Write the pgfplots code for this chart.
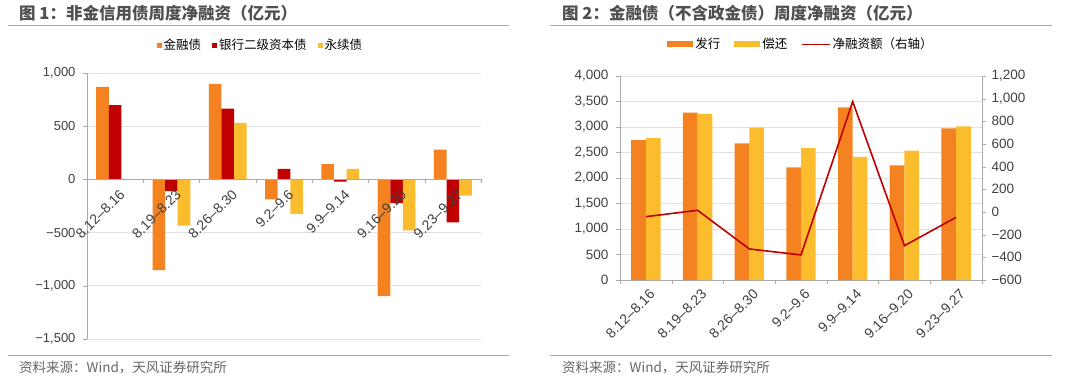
\documentclass[border=0pt]{standalone}
\usepackage{pgfplots}
\pgfplotsset{compat=1.18}
\usepackage{fontspec}
\setmainfont{Liberation Sans}
\newfontfamily\cjk{Noto Sans CJK SC}
\definecolor{cOrange}{RGB}{245,130,32}
\definecolor{cRed}{RGB}{192,0,0}
\definecolor{cYellow}{RGB}{251,188,45}
\definecolor{cLine}{RGB}{245,150,70}
\definecolor{cTitle}{RGB}{80,80,80}
\definecolor{cTick}{RGB}{64,64,64}
\definecolor{cGrid}{RGB}{225,225,225}
\definecolor{cAxis}{RGB}{170,170,170}
\pgfplotsset{
  linelegend/.style={legend image code/.code={\draw[##1] (0pt,0pt) -- (28pt,0pt);}},
}
\begin{document}
\begin{tikzpicture}
\path[use as bounding box] (0,0) rectangle (1080pt,-383pt);
% titles and frame lines
\node[anchor=west, font=\cjk\bfseries\fontsize{16.5}{17}\selectfont, text=cTitle, inner sep=0pt] at (19pt,-13pt) {图 1：非金信用债周度净融资（亿元）};
\node[anchor=west, font=\cjk\bfseries\fontsize{16.5}{17}\selectfont, text=cTitle, inner sep=0pt] at (562pt,-13pt) {图 2：金融债（不含政金债）周度净融资（亿元）};
\draw[cLine, line width=1.1pt] (8pt,-25.5pt) -- (509pt,-25.5pt);
\draw[cLine, line width=1.1pt] (550pt,-25.5pt) -- (1052pt,-25.5pt);
\draw[cLine, line width=1.1pt] (8pt,-355.5pt) -- (509pt,-355.5pt);
\draw[cLine, line width=1.1pt] (550pt,-355.5pt) -- (1052pt,-355.5pt);
\node[anchor=west, font=\cjk\fontsize{13.5}{14}\selectfont, text=cTick!80, inner sep=0pt] at (19pt,-368pt) {资料来源：Wind，天风证券研究所};
\node[anchor=west, font=\cjk\fontsize{13.5}{14}\selectfont, text=cTick!80, inner sep=0pt] at (562pt,-368pt) {资料来源：Wind，天风证券研究所};

% ---------- Left chart: bars ----------
\begin{axis}[
  at={(87pt,-339pt)}, anchor=south west, scale only axis,
  width=394pt, height=266pt,
  xmin=-0.5, xmax=6.5, ymin=-1500, ymax=1000,
  axis y line=left, axis x line=none,
  axis line style={-, draw=cAxis},
  ybar, bar width=12.6pt,
  xtick=\empty,
  ytick={-1500,-1000,-500,0,500,1000},
  yticklabels={{−1,500},{−1,000},{−500},{0},{500},{1,000}},
  yticklabel style={font=\fontsize{13}{13}\selectfont, text=cTick, xshift=-4pt},
  tick align=outside, major tick length=4pt,
  tick style={draw=cAxis},
  ymajorgrids, grid style={cGrid, line width=0.8pt},
  legend style={at={(0.44,1.105)}, anchor=center, draw=none, fill=none,
    legend columns=-1, font=\cjk\fontsize{12.5}{13}\selectfont, text=black,
    /tikz/every even column/.append style={column sep=9pt},
    inner sep=0pt},
  legend image code/.code={\fill[#1] (0pt,-2.5pt) rectangle (5pt,2.5pt);},
  clip=false,
]
\addplot[fill=cOrange, draw=none, bar shift=-12.6pt] coordinates {(0,869) (1,-853) (2,897) (3,-188) (4,144) (5,-1097) (6,281)};
\addplot[fill=cRed, draw=none, bar shift=0pt] coordinates {(0,697) (1,-109) (2,666) (3,100) (4,-22) (5,-222) (6,-403)};
\addplot[fill=cYellow, draw=none, bar shift=12.6pt] coordinates {(0,0) (1,-434) (2,531) (3,-325) (4,100) (5,-478) (6,-153)};
\legend{金融债,银行二级资本债,永续债}
\end{axis}

% ---------- Left chart: x axis at zero, drawn on top ----------
\begin{axis}[
  at={(87pt,-339pt)}, anchor=south west, scale only axis,
  width=394pt, height=266pt,
  xmin=-0.5, xmax=6.5, ymin=-1500, ymax=1000,
  axis x line=middle, axis y line=none,
  axis line style={-, draw=cAxis},
  hide obscured x ticks=false,
  xtick={-0.5,0.5,1.5,2.5,3.5,4.5,5.5,6.5},
  x tick label as interval,
  xticklabels={8.12–8.16,8.19–8.23,8.26–8.30,9.2–9.6,9.9–9.14,9.16–9.20,9.23–9.27},
  xticklabel style={rotate=45, anchor=north east, font=\fontsize{14}{14}\selectfont, text=cTick, inner sep=1pt, yshift=-5pt},
  ytick=\empty,
  tick align=outside, major tick length=4pt,
  tick style={draw=cAxis},
]
\addplot[draw=none, mark=none] coordinates {(0,0)};
\end{axis}

% ---------- Right chart: bars ----------
\begin{axis}[
  at={(620pt,-280pt)}, anchor=south west, scale only axis,
  width=362pt, height=204pt,
  xmin=-0.5, xmax=6.5, ymin=0, ymax=4000,
  axis y line*=left, axis x line*=bottom,
  axis line style={-, draw=cAxis},
  ybar, bar width=14.7pt,
  xtick={-0.5,0.5,1.5,2.5,3.5,4.5,5.5,6.5},
  x tick label as interval,
  xticklabels={8.12–8.16,8.19–8.23,8.26–8.30,9.2–9.6,9.9–9.14,9.16–9.20,9.23–9.27},
  xticklabel style={rotate=45, anchor=north east, font=\fontsize{14}{14}\selectfont, text=cTick, inner sep=1pt, yshift=-4pt},
  ytick={0,500,...,4000},
  yticklabels={0,500,{1,000},{1,500},{2,000},{2,500},{3,000},{3,500},{4,000}},
  yticklabel style={font=\fontsize{13.5}{13.5}\selectfont, text=cTick, xshift=-4pt},
  tick align=outside, major tick length=4pt,
  tick style={draw=cAxis},
  ymajorgrids, grid style={cGrid, line width=0.8pt},
  legend style={at={(0.5,1.155)}, anchor=center, draw=none, fill=none,
    legend columns=-1, font=\cjk\fontsize{12.5}{13}\selectfont, text=black,
    /tikz/every even column/.append style={column sep=12pt},
    inner sep=0pt},
  legend image code/.code={\fill[#1] (0pt,-3pt) rectangle (26pt,3pt);},
]
\addplot[fill=cOrange, draw=none, bar shift=-7.35pt] coordinates {(0,2745) (1,3281) (2,2680) (3,2209) (4,3386) (5,2248) (6,2974)};
\addplot[fill=cYellow, draw=none, bar shift=7.35pt] coordinates {(0,2784) (1,3255) (2,2987) (3,2588) (4,2412) (5,2536) (6,3013)};
\addlegendimage{draw=cRed, line width=1.3pt, linelegend}
\legend{发行,偿还,净融资额（右轴）}
\end{axis}

% ---------- Right chart: line on secondary axis ----------
\begin{axis}[
  at={(620pt,-280pt)}, anchor=south west, scale only axis,
  width=362pt, height=204pt,
  xmin=-0.5, xmax=6.5, ymin=-600, ymax=1200,
  axis y line*=right, axis x line=none,
  axis line style={-, draw=cAxis},
  ytick={-600,-400,...,1200},
  yticklabels={{−600},{−400},{−200},{0},{200},{400},{600},{800},{1,000},{1,200}},
  yticklabel style={font=\fontsize{13.5}{13.5}\selectfont, text=cTick, xshift=2pt},
  tick align=outside, major tick length=4pt,
  tick style={draw=cAxis},
]
\addplot[draw=cRed, line width=1.6pt, mark=none] coordinates {(0,-41) (1,15) (2,-326) (3,-379) (4,974) (5,-297) (6,-47)};
\end{axis}
\end{tikzpicture}
\end{document}
